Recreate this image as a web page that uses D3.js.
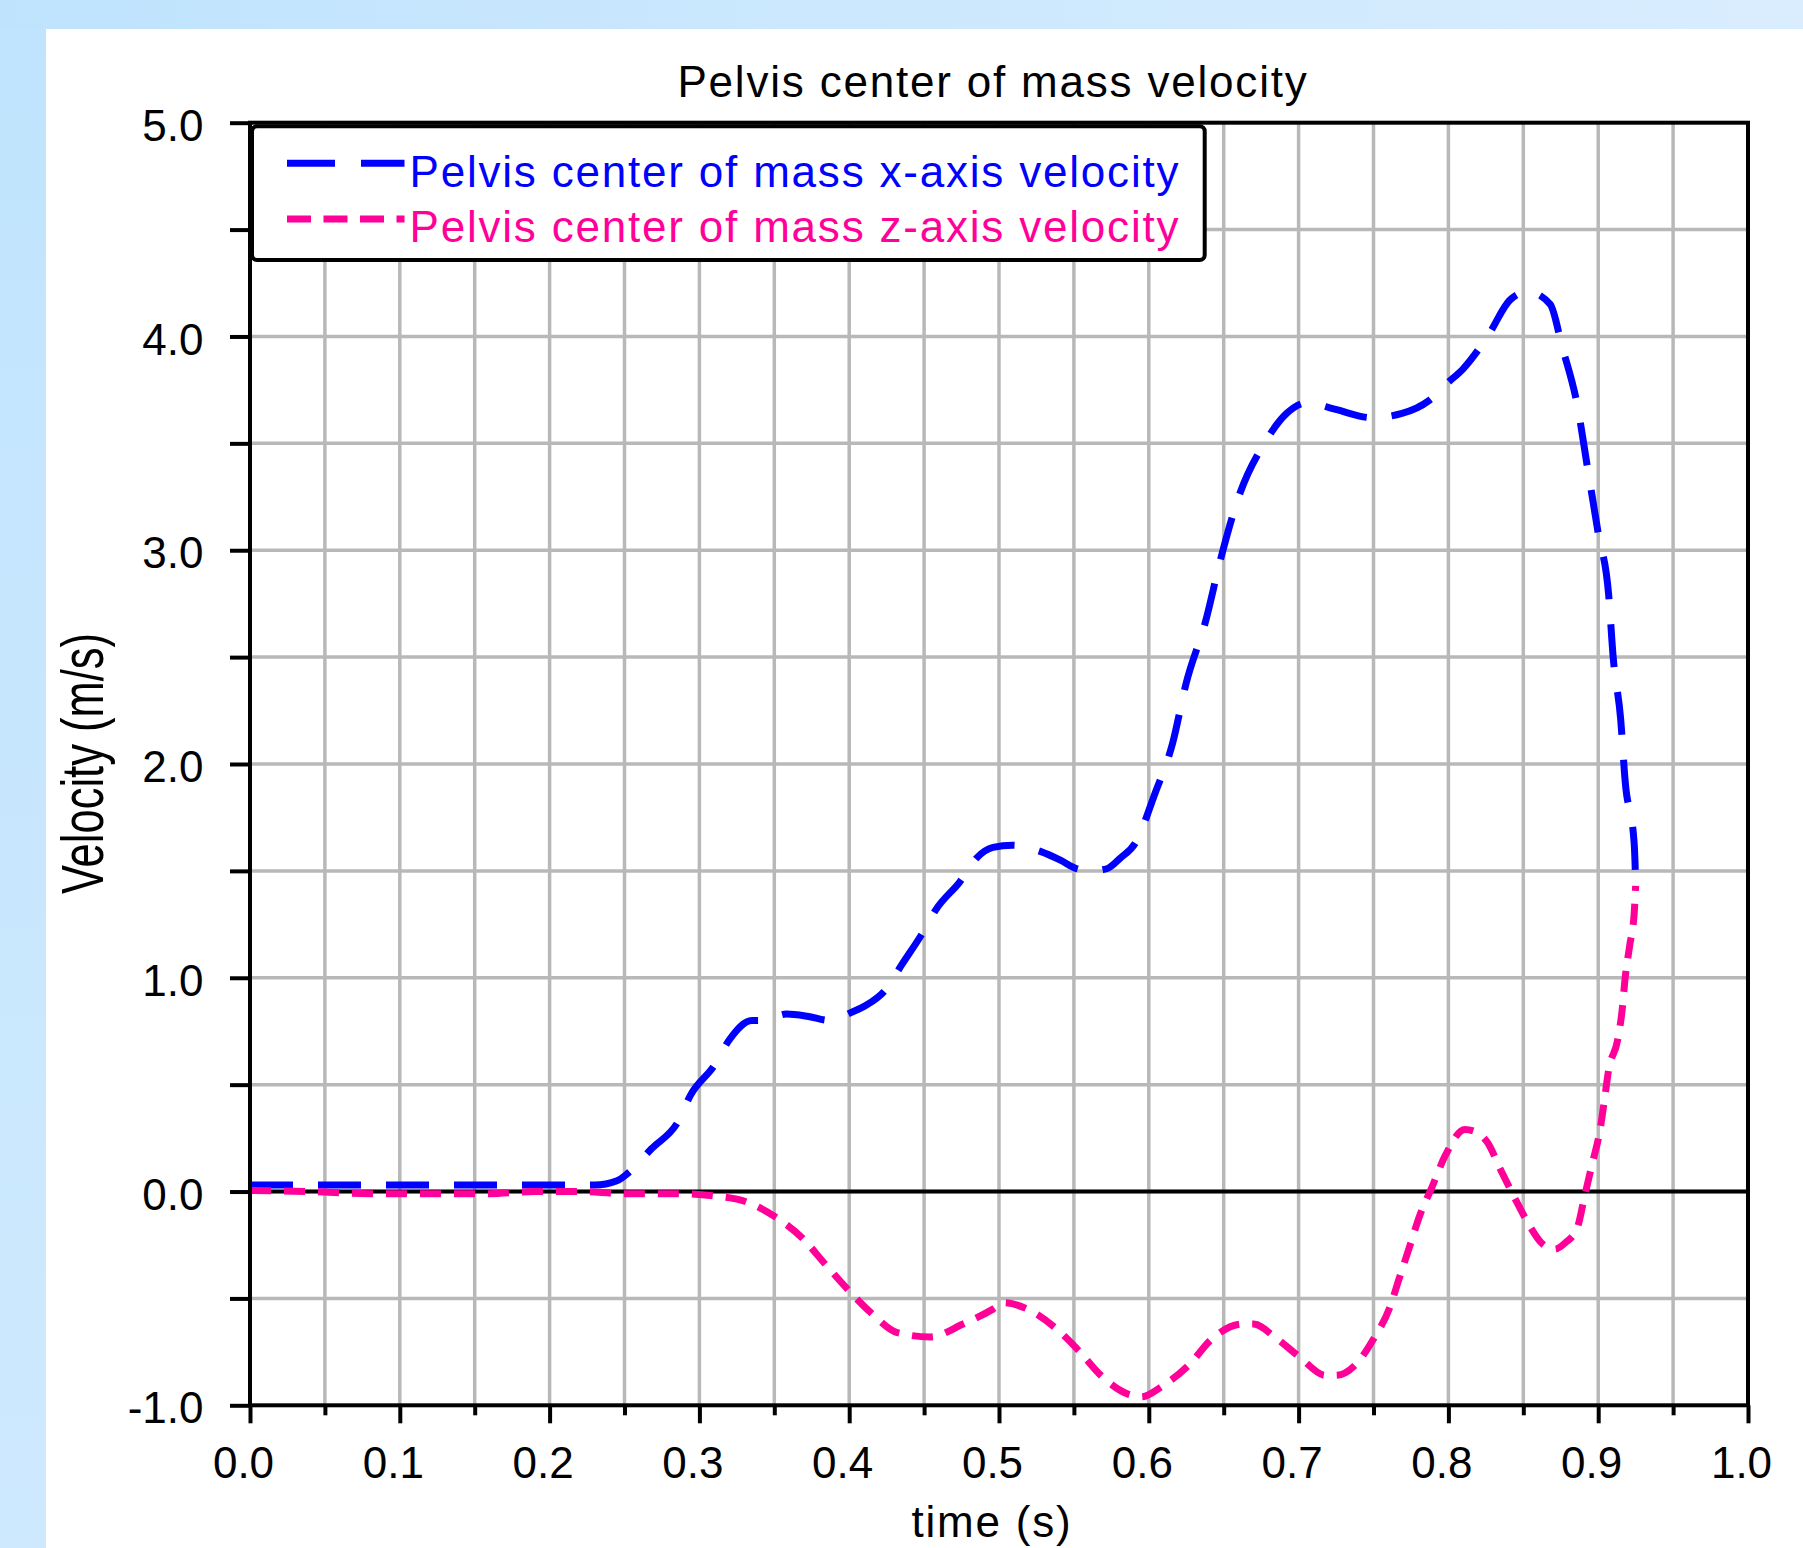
<!DOCTYPE html>
<html>
<head>
<meta charset="utf-8">
<script src="https://cdn.jsdelivr.net/npm/d3@7"></script>
<style>
  body { margin: 0; background: #fff; }
  svg { display: block; font-family: "Liberation Sans", Arial, sans-serif; }
  .grid line { stroke: #b8b8b8; stroke-width: 3.5; }
  .axis path { display: none; }
  .axis line { stroke: #000; stroke-width: 4; }
  .axis text { font-size: 44px; fill: #000; font-family: "Liberation Sans", Arial, sans-serif; }
  .label { font-size: 44px; letter-spacing: 1.8px; }
</style>
</head>
<body>
<svg class="plot"></svg>
<script>
// x-axis velocity (blue), time in s / velocity in m/s
const xVelTime = [0, 0.05, 0.1, 0.15, 0.2, 0.23, 0.245, 0.253, 0.268, 0.286,
                  0.294, 0.31, 0.32, 0.335, 0.343, 0.358, 0.372, 0.387, 0.402, 0.411,
                  0.425, 0.435, 0.449, 0.458, 0.474, 0.485, 0.496, 0.509, 0.528, 0.541,
                  0.552, 0.562, 0.572, 0.581, 0.591, 0.604, 0.616, 0.625, 0.638, 0.648,
                  0.66, 0.678, 0.692, 0.706, 0.724, 0.749, 0.769, 0.787, 0.799, 0.81,
                  0.827, 0.841, 0.853, 0.868, 0.876, 0.886, 0.893, 0.9, 0.907, 0.91,
                  0.915, 0.918, 0.924, 0.925];
const xVel = [0.03, 0.03, 0.03, 0.03, 0.03, 0.03, 0.05, 0.09, 0.2, 0.33,
              0.45, 0.59, 0.71, 0.8, 0.8, 0.83, 0.82, 0.8, 0.84, 0.87,
              0.95, 1.06, 1.21, 1.32, 1.45, 1.56, 1.61, 1.62, 1.59, 1.55,
              1.51, 1.5, 1.51, 1.56, 1.63, 1.86, 2.1, 2.38, 2.67, 2.96,
              3.25, 3.51, 3.64, 3.69, 3.66, 3.62, 3.64, 3.7, 3.78, 3.85,
              4.01, 4.17, 4.21, 4.15, 3.95, 3.68, 3.38, 3.08, 2.79, 2.5,
              2.21, 1.92, 1.63, 1.45];

// z-axis velocity (pink)
const zVelTime = [0, 0.04, 0.08, 0.12, 0.16, 0.19, 0.22, 0.25, 0.262, 0.286,
                  0.309, 0.332, 0.351, 0.369, 0.384, 0.398, 0.415, 0.432, 0.454, 0.476,
                  0.496, 0.503, 0.519, 0.538, 0.554, 0.568, 0.587, 0.595, 0.609, 0.627,
                  0.642, 0.663, 0.67, 0.684, 0.7, 0.718, 0.725, 0.738, 0.75, 0.761,
                  0.767, 0.774, 0.781, 0.789, 0.798, 0.811, 0.818, 0.826, 0.835, 0.845,
                  0.855, 0.862, 0.871, 0.878, 0.886, 0.891, 0.896, 0.901, 0.904, 0.907,
                  0.913, 0.916, 0.918, 0.921, 0.924, 0.925];
const zVel = [0.005, 0, -0.01, -0.01, -0.01, 0, 0, -0.01, -0.01, -0.01,
              -0.02, -0.05, -0.12, -0.22, -0.34, -0.45, -0.57, -0.66, -0.68, -0.62,
              -0.55, -0.52, -0.55, -0.64, -0.75, -0.86, -0.95, -0.96, -0.91, -0.81,
              -0.69, -0.62, -0.62, -0.68, -0.77, -0.86, -0.86, -0.81, -0.69, -0.54,
              -0.41, -0.26, -0.11, 0.02, 0.17, 0.29, 0.28, 0.23, 0.1, -0.04,
              -0.17, -0.24, -0.27, -0.24, -0.17, -0.02, 0.13, 0.28, 0.42, 0.57,
              0.71, 0.85, 1.0, 1.15, 1.3, 1.43];

const seriesNames = ["Pelvis center of mass x-axis velocity", "Pelvis center of mass z-axis velocity"];

const xTicks = [0, 0.1, 0.2, 0.3, 0.4, 0.5, 0.6, 0.7, 0.8, 0.9, 1.0];
const xTickLabels = ["0.0", "0.1", "0.2", "0.3", "0.4", "0.5", "0.6", "0.7", "0.8", "0.9", "1.0"];
const xMinorTicks = [0.05, 0.15, 0.25, 0.35, 0.45, 0.55, 0.65, 0.75, 0.85, 0.95];
const yTicks = [-1, 0, 1, 2, 3, 4, 5];
const yTickLabels = ["-1.0", "0.0", "1.0", "2.0", "3.0", "4.0", "5.0"];
const yMinorTicks = [-0.5, 0.5, 1.5, 2.5, 3.5, 4.5];

const W = 1803, H = 1548;
const margin = {top: 122.7, left: 250},
      width = 1498,
      height = 1282.6;

const svg = d3.select(".plot").attr("width", W).attr("height", H);

// light blue frame round the white panel
const defs = svg.append("defs");
let gTop = defs.append("linearGradient").attr("id", "bandTop").attr("x1", 0).attr("x2", 1).attr("y1", 0).attr("y2", 0);
gTop.append("stop").attr("offset", 0).attr("stop-color", "#bfe3fd");
gTop.append("stop").attr("offset", 1).attr("stop-color", "#d9edfe");
let gLeft = defs.append("linearGradient").attr("id", "bandLeft").attr("x1", 0).attr("x2", 0).attr("y1", 0).attr("y2", 1);
gLeft.append("stop").attr("offset", 0).attr("stop-color", "#c0e4fd");
gLeft.append("stop").attr("offset", 1).attr("stop-color", "#cee9fe");

svg.append("rect").attr("width", W).attr("height", H).attr("fill", "#fff");
svg.append("rect").attr("x", 0).attr("y", 0).attr("width", W).attr("height", 29).attr("fill", "url(#bandTop)");
svg.append("rect").attr("x", 0).attr("y", 29).attr("width", 46).attr("height", H - 29).attr("fill", "url(#bandLeft)");

let x = d3.scaleLinear().domain([0, 1]).range([0, width]);
let y = d3.scaleLinear().domain([-1, 5]).range([height, 0]);

let chart = svg.append("g")
               .attr("transform", "translate(" + margin.left + "," + margin.top + ")");

// grid
let grid = chart.append("g").attr("class", "grid");
grid.selectAll(".vline")
    .data(xTicks.concat(xMinorTicks).filter(d => d > 0 && d < 1))
    .enter().append("line")
    .attr("x1", d => x(d)).attr("x2", d => x(d))
    .attr("y1", 0).attr("y2", height);
grid.selectAll(".hline")
    .data(yTicks.concat(yMinorTicks).filter(d => d > -1 && d < 5))
    .enter().append("line")
    .attr("x1", 0).attr("x2", width)
    .attr("y1", d => y(d)).attr("y2", d => y(d));

// zero line
chart.append("line")
     .attr("x1", 0).attr("x2", width)
     .attr("y1", y(0)).attr("y2", y(0))
     .attr("stroke", "#000").attr("stroke-width", 4);

// curves
let line = d3.line()
             .x(d => x(d[0]))
             .y(d => y(d[1]))
             .curve(d3.curveMonotoneX);

chart.append("path")
     .datum(d3.zip(xVelTime, xVel))
     .attr("d", line)
     .attr("fill", "none")
     .attr("stroke", "#0000ff")
     .attr("stroke-width", 7)
     .attr("stroke-dasharray", "43,25");

chart.append("path")
     .datum(d3.zip(zVelTime, zVel))
     .attr("d", line)
     .attr("fill", "none")
     .attr("stroke", "#ff0099")
     .attr("stroke-width", 7)
     .attr("stroke-dasharray", "21,13");

// legend
let legend = chart.append("g");
legend.append("rect")
      .attr("x", 2).attr("y", 3.6)
      .attr("width", 952.7).attr("height", 133.7)
      .attr("rx", 5)
      .attr("fill", "#fff")
      .attr("stroke", "#000")
      .attr("stroke-width", 4);

const legendColors = ["#0000ff", "#ff0099"];
const legendDash = ["48,26", "24,12.5"];
const legendRowY = [40.6, 96.3];
seriesNames.forEach((name, i) => {
  legend.append("line")
        .attr("x1", 37).attr("x2", 154.5)
        .attr("y1", legendRowY[i]).attr("y2", legendRowY[i])
        .attr("stroke", legendColors[i])
        .attr("stroke-width", 7)
        .attr("stroke-dasharray", legendDash[i]);
  legend.append("text")
        .attr("class", "label")
        .attr("x", 159.5)
        .attr("y", legendRowY[i] + 23.4)
        .attr("fill", legendColors[i])
        .text(name);
});

// axes
let xAxis = chart.append("g")
     .attr("class", "axis")
     .attr("transform", "translate(0," + height + ")")
     .call(d3.axisBottom(x).tickValues(xTicks).tickSize(18).tickFormat((d, i) => xTickLabels[i]));
xAxis.selectAll("text").attr("y", 73).attr("dy", null).attr("dx", -7);

chart.append("g")
     .attr("class", "axis")
     .attr("transform", "translate(0," + height + ")")
     .call(d3.axisBottom(x).tickValues(xMinorTicks).tickSize(10).tickFormat(""));

let yAxis = chart.append("g")
     .attr("class", "axis")
     .call(d3.axisLeft(y).tickValues(yTicks).tickSize(20).tickPadding(26.5).tickFormat((d, i) => yTickLabels[i]));
yAxis.selectAll("text").attr("dy", "0.4em");

chart.append("g")
     .attr("class", "axis")
     .call(d3.axisLeft(y).tickValues(yMinorTicks).tickSize(20).tickFormat(""));

// plot border
chart.append("rect")
     .attr("x", 0).attr("y", 0)
     .attr("width", width).attr("height", height)
     .attr("fill", "none")
     .attr("stroke", "#000")
     .attr("stroke-width", 4);

// title
svg.append("text")
   .attr("class", "label")
   .attr("x", 993).attr("y", 97)
   .attr("text-anchor", "middle")
   .text("Pelvis center of mass velocity");

// axis labels
svg.append("text")
   .attr("class", "label")
   .attr("x", 992).attr("y", 1537)
   .attr("text-anchor", "middle")
   .text("time (s)");

svg.append("text")
   .attr("transform", "translate(102.7,763.5) rotate(-90)")
   .attr("text-anchor", "middle")
   .attr("font-size", 60)
   .attr("textLength", 261)
   .attr("lengthAdjust", "spacingAndGlyphs")
   .text("Velocity (m/s)");
</script>
</body>
</html>
